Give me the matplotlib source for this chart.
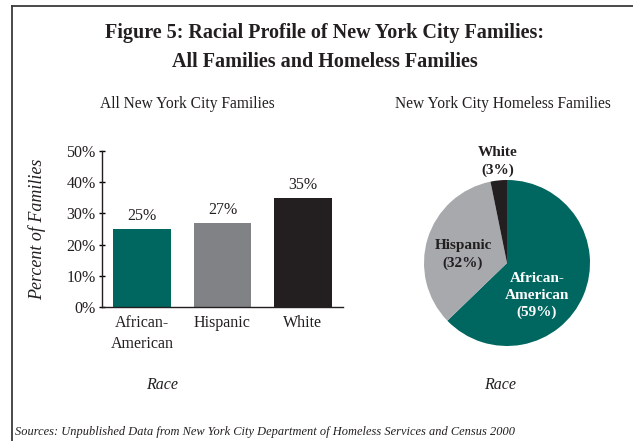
import matplotlib.pyplot as plt
from matplotlib.lines import Line2D

plt.rcParams['font.family'] = ['Liberation Serif', 'DejaVu Serif']

# data
races = ['African-\nAmerican', 'Hispanic', 'White']
all_pct = [25, 27, 35]
homeless_pct = [59, 32, 3]
homeless_labels = ['African-\nAmerican\n(59%)', 'Hispanic\n(32%)', 'White\n(3%)']
yticks = [0, 10, 20, 30, 40, 50]

teal = '#006660'
dark = '#231f20'
bar_colors = [teal, '#808285', dark]
pie_colors = [teal, '#a7a9ac', dark]

fig = plt.figure(figsize=(6.33, 4.41), dpi=100)

# frame round the figure
fig.add_artist(Line2D([12/633, 1], [1 - 6/441] * 2, color='#3a3a3a', lw=1.3))
fig.add_artist(Line2D([12/633] * 2, [0, 1 - 6/441], color='#3a3a3a', lw=1.3))

fig.text(0.513, 1 - 33/441, 'Figure 5: Racial Profile of New York City Families:',
         ha='center', va='center', fontsize=14.5, fontweight='bold', color='#231f20')
fig.text(0.513, 1 - 62/441, 'All Families and Homeless Families',
         ha='center', va='center', fontsize=14.5, fontweight='bold', color='#231f20')

# bar chart
ax = fig.add_axes([102/633, 1 - 307/441, 241/633, 156/441])
x = range(len(races))
bars = ax.bar(x, all_pct, width=0.72, color=bar_colors)
for b, v in zip(bars, all_pct):
    ax.text(b.get_x() + b.get_width() / 2, v + 1.5, f'{v}%', ha='center', va='bottom',
            fontsize=11.5, color='#231f20')
ax.set_xlim(-0.5, 2.5)
ax.set_ylim(0, 50)
ax.set_yticks(yticks)
ax.set_yticklabels([f'{t}%' for t in yticks], fontsize=11.5, color='#231f20')
ax.set_xticks(list(x))
ax.set_xticklabels(races, fontsize=11.5, color='#231f20', linespacing=1.35)
ax.tick_params(axis='x', length=0, pad=6)
ax.tick_params(axis='y', length=5, width=1, direction='inout', pad=2)
ax.spines['top'].set_visible(False)
ax.spines['right'].set_visible(False)
for s in ['left', 'bottom']:
    ax.spines[s].set_color('#231f20')
    ax.spines[s].set_linewidth(1)
ax.set_ylabel('Percent of Families', fontsize=13, style='italic', color='#231f20', labelpad=15)

fig.text(187/633, 1 - 104/441, 'All New York City Families', ha='center', va='center',
         fontsize=11.2, color='#231f20')
fig.text(162/633, 1 - 385/441, 'Race', ha='center', va='center', fontsize=11.5,
         style='italic', color='#231f20')

# pie chart
ax2 = fig.add_axes([(507 - 83)/633, 1 - (263 + 83)/441, 166/633, 166/441])
ax2.pie(homeless_pct, colors=pie_colors, startangle=90, counterclock=False,
        wedgeprops=dict(linewidth=0))
ax2.set_xlim(-1, 1)
ax2.set_ylim(-1, 1)
ax2.set_aspect('equal')
ax2.text(0.36, -0.39, homeless_labels[0], ha='center', va='center', fontsize=11,
         fontweight='bold', color='white', linespacing=1.4)
ax2.text(-0.53, 0.10, homeless_labels[1], ha='center', va='center', fontsize=11,
         fontweight='bold', color='#231f20', linespacing=1.4)
ax2.text(-0.11, 1.22, homeless_labels[2], ha='center', va='center', fontsize=11,
         fontweight='bold', color='#231f20', linespacing=1.4)

fig.text(503/633, 1 - 104/441, 'New York City Homeless Families', ha='center', va='center',
         fontsize=11.2, color='#231f20')
fig.text(500/633, 1 - 385/441, 'Race', ha='center', va='center', fontsize=11.5,
         style='italic', color='#231f20')

fig.text(15/633, 1 - 432/441, 'Sources: Unpublished Data from New York City Department of Homeless Services and Census 2000',
         ha='left', va='center', fontsize=8.9, style='italic', color='#231f20')

fig.savefig('out.png', dpi=100)
